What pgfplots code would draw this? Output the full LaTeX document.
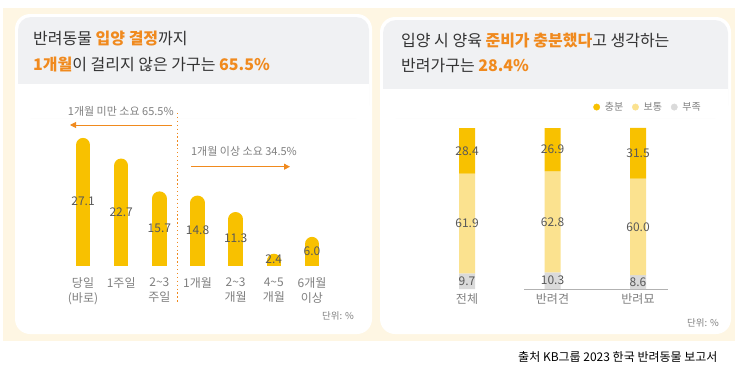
\documentclass[border=0pt]{standalone}
\usepackage{pgfplots}
\pgfplotsset{compat=1.18}
\usepackage{pgfplotstable}
\usetikzlibrary{arrows.meta}
\usepackage{fontspec}
\setmainfont{Noto Sans CJK KR}
\definecolor{cream}{HTML}{FEF6E3}
\definecolor{hdr}{HTML}{F0F1F3}
\definecolor{barY}{HTML}{F8C100}
\definecolor{barL}{HTML}{FBE28F}
\definecolor{barG}{HTML}{DADADA}
\definecolor{orng}{HTML}{F08A1E}
\definecolor{txt}{HTML}{333333}
\definecolor{lbl}{HTML}{595959}
\definecolor{cat}{HTML}{808080}
\newcommand{\fs}[1]{\fontsize{#1}{#1}\selectfont}

\pgfplotstableread{
x v
0 27.1
1 22.7
2 15.7
3 14.8
4 11.3
5 2.4
6 6.0
}\periodtab

\pgfplotstableread{
x b m t
0 9.7 61.9 28.4
1 10.3 62.8 26.9
2 8.6 60.0 31.5
}\readytab

\begin{document}
\begin{tikzpicture}
\begin{scope}[x=1pt,y=1pt]
\fill[white] (0,0) rectangle (739,368);
\fill[cream] (3,27) rectangle (735,360);
% left panel
\fill[white, rounded corners=15pt] (15,34) rectangle (372,354);
\fill[hdr, rounded corners=13pt] (18,250) rectangle (369,351);
\fill[white] (18,250) rectangle (369,284);
% right panel
\fill[white, rounded corners=15pt] (380,34) rectangle (731,351);
\fill[hdr, rounded corners=13pt] (383,250) rectangle (728,348);
\fill[white] (383,250) rectangle (728,279);

% titles
\node[anchor=west, inner sep=0pt, font=\fs{16}] at (33,329)
  {\color{txt}반려동물 \textbf{\color{orng}입양 결정}까지};
\node[anchor=west, inner sep=0pt, font=\fs{16}] at (33,304)
  {\textbf{\color{orng}1개월}\color{txt}이 걸리지 않은 가구는 \textbf{\color{orng}65.5\%}};
\node[anchor=west, inner sep=0pt, font=\fs{16}] at (401,327)
  {\color{txt}입양 시 양육 \textbf{\color{orng}준비가 충분했다}고 생각하는};
\node[anchor=west, inner sep=0pt, font=\fs{16}] at (401,302.5)
  {\color{txt}반려가구는 \textbf{\color{orng}28.4\%}};

% left annotations
\draw[orng, line width=1.2pt, dash pattern=on 1.3pt off 2.6pt] (177.7,255) -- (177.7,65);
\draw[orng, line width=0.9pt, -{Triangle[length=6pt,width=6pt]}] (171.7,243) -- (70,243);
\draw[orng, line width=0.9pt, -{Triangle[length=6pt,width=6pt]}] (191,201.3) -- (290,201.3);
\node[text=cat, font=\fs{11}] at (120.8,256.3) {1개월 미만 소요 65.5\%};
\node[text=cat, font=\fs{11}] at (244,216.3) {1개월 이상 소요 34.5\%};
\node[text=cat, font=\fs{9.5}] at (338,52) {단위: \%};
\node[text=cat, font=\fs{9.5}] at (703,45) {단위: \%};
\node[anchor=east, text=black, font=\fs{12}] at (721,11) {출처 KB그룹 2023 한국 반려동물 보고서};
\end{scope}

\begin{axis}[at={(52.5pt,103pt)}, anchor=south west, scale only axis,
  width=290pt, height=140.7pt,
  xmin=-0.8, xmax=6.8, ymin=0, ymax=30,
  axis line style={draw=none}, major tick length=0pt,
  ytick=\empty, xtick={0,...,6},
  xticklabels={{당일\\(바로)},1주일,{2\textasciitilde3\\주일},1개월,{2\textasciitilde3\\개월},{4\textasciitilde5\\개월},{6개월\\이상}},
  xticklabel style={align=center, font=\fontsize{12}{15}\selectfont, text=cat, anchor=north, yshift=-9pt},
]
\addplot[barY, quiver={u=0, v=\thisrow{v}}, line width=14.5pt, line cap=round, shorten >=7.25pt]
  table[x=x, y expr=0] {\periodtab};
\addplot[draw=none, mark=none, nodes near coords, point meta=explicit symbolic,
  nodes near coords style={anchor=center, font=\fs{12}, text=lbl}]
  table[x=x, y expr=\thisrow{v}/2, meta=v] {\periodtab};
\end{axis}

\begin{axis}[at={(424.25pt,79pt)}, anchor=south west, scale only axis,
  width=256.5pt, height=161pt, clip=false,
  xmin=-0.5, xmax=2.5, ymin=0, ymax=100,
  axis line style={draw=none}, major tick length=0pt,
  ytick=\empty, xtick={0,1,2}, xticklabels={전체,반려견,반려묘},
  xticklabel style={font=\fs{12}, text=cat, anchor=north, yshift=-1pt},
  legend style={at={(1.087,1.13)}, anchor=east, draw=none, fill=none,
    font=\fs{10}, text=cat, legend columns=-1, inner sep=0pt,
    /tikz/every odd column/.append style={column sep=3pt},
    /tikz/every even column/.append style={column sep=7pt}},
]
\addlegendimage{only marks, mark=*, mark size=3.2pt, color=barY}
\addlegendentry{충분}
\addlegendimage{only marks, mark=*, mark size=3.2pt, color=barL}
\addlegendentry{보통}
\addlegendimage{only marks, mark=*, mark size=3.2pt, color=barG}
\addlegendentry{부족}
\draw[black!30, line width=0.8pt] (axis cs:0.67,0) -- (axis cs:2.35,0);
\addplot[ybar, stack plots=y, bar width=16pt, fill=barG, draw=none, forget plot]
  table[x=x, y=b] {\readytab};
\addplot[ybar, stack plots=y, bar width=16pt, fill=barL, draw=none, forget plot]
  table[x=x, y=m] {\readytab};
\addplot[ybar, stack plots=y, bar width=16pt, fill=barY, draw=none, forget plot]
  table[x=x, y=t] {\readytab};
\addplot[draw=none, mark=none, forget plot, nodes near coords, point meta=explicit symbolic,
  nodes near coords style={anchor=center, font=\fs{12}, text=lbl}]
  table[x=x, y expr=\thisrow{b}/2, meta=b] {\readytab};
\addplot[draw=none, mark=none, forget plot, nodes near coords, point meta=explicit symbolic,
  nodes near coords style={anchor=center, font=\fs{12}, text=lbl}]
  table[x=x, y expr=\thisrow{b}+\thisrow{m}/2, meta=m] {\readytab};
\addplot[draw=none, mark=none, forget plot, nodes near coords, point meta=explicit symbolic,
  nodes near coords style={anchor=center, font=\fs{12}, text=lbl}]
  table[x=x, y expr=\thisrow{b}+\thisrow{m}+\thisrow{t}/2, meta=t] {\readytab};
\end{axis}
\pgfresetboundingbox
\path[use as bounding box] (0pt,0pt) rectangle (739pt,368pt);
\end{tikzpicture}
\end{document}
